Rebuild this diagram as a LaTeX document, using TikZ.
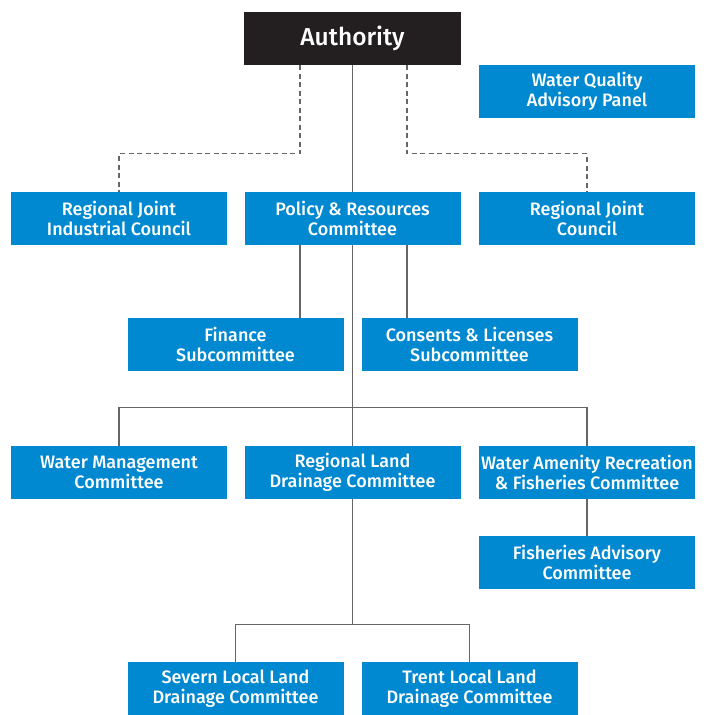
\documentclass[tikz,border=0pt]{standalone}
\usepackage{fontspec}
\setmainfont{Fira Sans}[BoldFont={Fira Sans Medium}]
\usepackage{tikz}
\usetikzlibrary{positioning}
\definecolor{orgblue}{HTML}{0089D0}
\definecolor{orgblack}{HTML}{231F20}
\definecolor{orgline}{HTML}{666666}

\begin{document}
\begin{tikzpicture}[x=1pt,y=-1pt]
\tikzstyle{unit}=[fill=orgblue, text=white, minimum width=216pt, minimum height=53pt, align=center, inner sep=0pt, font=\fontsize{18}{20}\selectfont\bfseries]
\tikzstyle{head}=[fill=orgblack, text=white, minimum width=217pt, minimum height=53pt, inner sep=0pt, font=\fontsize{24.5}{28}\selectfont\bfseries]
\tikzstyle{link}=[draw=orgline, line width=1.3pt]
\tikzstyle{dashlink}=[link, dash pattern=on 5pt off 3.5pt]
\useasboundingbox (0,0) rectangle (710,715);

% top
\node[head] (auth) at (352.5,38.5) {Authority};
\node[unit] (wqap) at (587,91.5) {Water Quality\\Advisory Panel};
% second row
\node[unit] (rjic) at (119,218.5) {Regional Joint\\Industrial Council};
\node[unit] (pr) at (352.5,218.5) {Policy \& Resources\\Committee};
\node[unit] (rjc) at (587,218.5) {Regional Joint\\Council};
% subcommittees
\node[unit] (fin) at (235.5,344.5) {Finance\\Subcommittee};
\node[unit] (cons) at (469.5,344.5) {Consents \& Licenses\\Subcommittee};
% committees
\node[unit] (wm) at (119,472.5) {Water Management\\Committee};
\node[unit] (rld) at (352.5,472.5) {Regional Land\\Drainage Committee};
\node[unit] (warf) at (587,472.5) {Water Amenity Recreation\\\& Fisheries Committee};
\node[unit] (fac) at (587,562.5) {Fisheries Advisory\\Committee};
% local
\node[unit] (sev) at (235.5,688.5) {Severn Local Land\\Drainage Committee};
\node[unit] (trent) at (469.5,688.5) {Trent Local Land\\Drainage Committee};

\draw[link] (auth.south) -- (pr.north);
\draw[dashlink] ([xshift=-52.5pt]auth.south) |- ([yshift=38pt]rjic.north) -- (rjic.north);
\draw[dashlink] ([xshift=54.5pt]auth.south) |- ([yshift=38pt]rjc.north) -- (rjc.north);
\draw[link] ([xshift=-52.5pt]pr.south) -- ([xshift=-52.5pt]pr.south |- fin.north);
\draw[link] ([xshift=54.5pt]pr.south) -- ([xshift=54.5pt]pr.south |- cons.north);
\draw[link] (pr.south) -- (rld.north);
\draw[link] (wm.north) |- ([yshift=38pt]rld.north) -| (warf.north);
\draw[link] (warf.south) -- (fac.north);
\draw[link] (rld.south) -- ([yshift=37pt]rld.south |- sev.north);
\draw[link] (sev.north) |- ([yshift=37pt]sev.north) -| (trent.north);

\end{tikzpicture}
\end{document}
